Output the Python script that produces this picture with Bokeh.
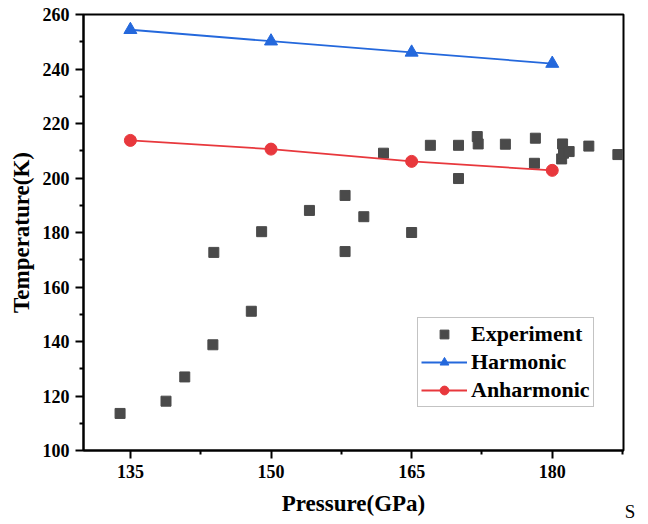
from bokeh.plotting import figure
from bokeh.models import (Range1d, FixedTicker, Legend, LegendItem, LinearAxis,
                          CustomJSTickFormatter)
from bokeh.embed import file_html
from bokeh.resources import INLINE

# Data
exp_p = [133.9, 138.8, 140.8, 143.8, 143.9, 147.9, 149.0, 154.1, 157.9, 157.9,
         159.9, 162.0, 165.0, 167.0, 170.0, 170.0, 172.0, 172.1, 175.0, 178.2,
         178.1, 181.1, 181.0, 181.2, 181.8, 183.9, 187.0]
exp_t = [113.6, 118.1, 127.0, 138.8, 172.7, 151.1, 180.3, 188.1, 193.6, 173.0,
         185.8, 209.1, 180.0, 212.0, 212.0, 199.8, 215.2, 212.5, 212.4, 214.6,
         205.4, 212.5, 207.0, 209.1, 209.7, 211.7, 208.6]
calc_p = [135, 150, 165, 180]
harm_t = [254.4, 250.2, 246.1, 242.0]
anharm_t = [213.8, 210.6, 206.1, 202.8]
x_ticks = [135, 150, 165, 180]
y_ticks = [100, 120, 140, 160, 180, 200, 220, 240, 260]
stray_text = "S"

FONT = "Liberation Serif"
BLUE = "#2468dc"
RED = "#e8383d"
GRAY = "#4a4a4a"

p = figure(width=648, height=524, output_backend="svg", toolbar_location=None,
           x_range=Range1d(130.0, 187.6), y_range=Range1d(100, 260),
           min_border_left=83, min_border_right=25, min_border_top=14,
           min_border_bottom=74)
p.background_fill_color = "white"
p.border_fill_color = "white"
p.grid.visible = False
p.outline_line_color = "black"
p.outline_line_width = 2

for ax in (p.xaxis[0], p.yaxis[0]):
    ax.axis_line_width = 2
    ax.major_tick_line_width = 2
    ax.minor_tick_line_width = 2
    ax.major_tick_in = 0
    ax.major_tick_out = 8
    ax.minor_tick_in = 0
    ax.minor_tick_out = 4
    ax.major_label_text_font = FONT
    ax.major_label_text_font_style = "bold"
    ax.major_label_text_font_size = "18px"
    ax.major_label_text_color = "black"
    ax.axis_label_text_font = FONT
    ax.axis_label_text_font_style = "bold"
    ax.axis_label_text_font_size = "23px"
    ax.axis_label_text_color = "black"

p.xaxis.ticker = FixedTicker(ticks=x_ticks, minor_ticks=[127.5, 142.5, 157.5, 172.5, 187.5])
p.yaxis.ticker = FixedTicker(ticks=y_ticks, minor_ticks=[110, 130, 150, 170, 190, 210, 230, 250])
p.xaxis.axis_label = "Pressure(GPa)"
p.yaxis.axis_label = "Temperature(K)"
p.xaxis.major_label_standoff = 6
p.xaxis.axis_label_standoff = 10
p.yaxis.major_label_standoff = 6
p.yaxis.axis_label_standoff = 6

r_exp = p.scatter(exp_p, exp_t, marker="square", size=10, fill_color=GRAY, line_color=GRAY)
r_hl = p.line(calc_p, harm_t, line_color=BLUE, line_width=1.8)
r_hm = p.scatter(calc_p, harm_t, marker="triangle", size=13, fill_color=BLUE, line_color=BLUE)
r_al = p.line(calc_p, anharm_t, line_color=RED, line_width=1.8)
r_am = p.scatter(calc_p, anharm_t, marker="circle", size=12, fill_color=RED, line_color=RED)

legend = Legend(items=[
    LegendItem(label="Experiment", renderers=[r_exp]),
    LegendItem(label="Harmonic", renderers=[r_hl, r_hm]),
    LegendItem(label="Anharmonic", renderers=[r_al, r_am]),
], location=(334, 43))
legend.label_text_font = FONT
legend.label_text_font_style = "bold"
legend.label_text_font_size = "22px"
legend.label_text_color = "black"
legend.glyph_width = 46
legend.glyph_height = 22
legend.label_height = 22
legend.label_standoff = 4
legend.spacing = 2
legend.padding = 3
legend.margin = 0
legend.border_line_color = "#888888"
legend.border_line_width = 1
legend.background_fill_alpha = 1
p.add_layout(legend, "center")

# stray "S" at the bottom right, drawn as the only tick label of a bare extra axis
p.extra_x_ranges = {"stray": Range1d(0, 1)}
sax = LinearAxis(x_range_name="stray", ticker=FixedTicker(ticks=[0.9999], minor_ticks=[]),
                 formatter=CustomJSTickFormatter(code="return '\\u2002\\u2009%s'" % stray_text))
sax.axis_line_color = None
sax.major_tick_line_color = None
sax.minor_tick_line_color = None
sax.major_tick_in = 0
sax.major_tick_out = 0
sax.minor_tick_in = 0
sax.minor_tick_out = 0
sax.major_label_standoff = -18
sax.major_label_text_font = FONT
sax.major_label_text_font_size = "19px"
sax.major_label_text_color = "black"
p.add_layout(sax, "below")

open("out.html", "w").write(file_html(p, INLINE))
